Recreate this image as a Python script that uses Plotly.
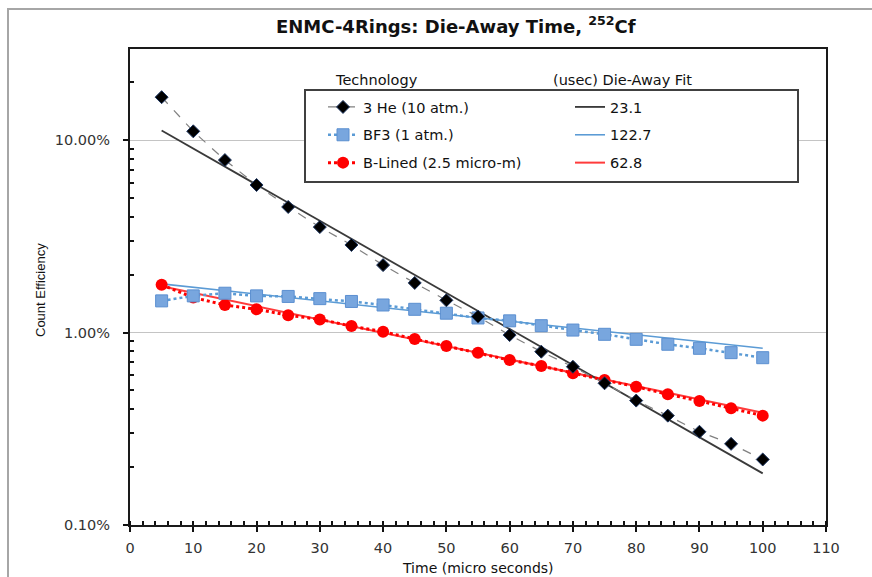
import plotly.graph_objects as go

# ---- data (fractions; axis shows percent) ----
time_us = [5, 10, 15, 20, 25, 30, 35, 40, 45, 50, 55, 60, 65, 70, 75, 80, 85, 90, 95, 100]
he3_eff = [0.167, 0.111, 0.0787, 0.0584, 0.0449, 0.0353, 0.0285, 0.0224, 0.0181, 0.0147,
           0.0121, 0.0097, 0.00795, 0.00664, 0.00545, 0.00443, 0.00370, 0.00305, 0.00264, 0.00219]
bf3_eff = [0.0146, 0.0155, 0.0160, 0.0155, 0.0154, 0.0150, 0.0145, 0.0139, 0.0132, 0.0126,
           0.0119, 0.0115, 0.01085, 0.0103, 0.00979, 0.00922, 0.00869, 0.00828, 0.00786, 0.00740]
blined_eff = [0.0177, 0.0152, 0.0139, 0.0132, 0.0123, 0.0117, 0.0108, 0.0101, 0.00925, 0.00851,
              0.00786, 0.00719, 0.00670, 0.00614, 0.00566, 0.00523, 0.00478, 0.00441, 0.00404, 0.00370]

fit_t = [5, 100]
he3_fit = [0.1120, 0.001855]
bf3_fit = [0.0179, 0.00828]
blined_fit = [0.0174, 0.00383]

series_names = ["3 He (10 atm.)", "BF3 (1 atm.)", "B-Lined (2.5 micro-m)"]
fit_names = ["23.1", "122.7", "62.8"]

# minor tick positions on the log axis (2..9 per decade)
y_minor = [m * d for d in (0.001, 0.01, 0.1) for m in range(2, 10) if m * d < 0.297]

# ---- geometry helpers (pixel -> paper) ----
W, H = 872, 577
L, R, T, B = 130, 46, 49, 52
PW, PH = W - L - R, H - T - B


def px(x):
    return (x - L) / PW


def py(y):
    return (H - B - y) / PH


fig = go.Figure()

# fit lines
fig.add_trace(go.Scatter(x=fit_t, y=blined_fit, mode="lines", name=fit_names[2],
                         line=dict(color="#ff3b3b", width=2), legend="legend2",
                         legendgroup="f3", legendrank=3))
fig.add_trace(go.Scatter(x=fit_t, y=bf3_fit, mode="lines", name=fit_names[1],
                         line=dict(color="#5b9bd5", width=1.6), legend="legend2",
                         legendgroup="f2", legendrank=2))
fig.add_trace(go.Scatter(x=fit_t, y=he3_fit, mode="lines", name=fit_names[0],
                         line=dict(color="#3a3a3a", width=1.8), legend="legend2",
                         legendgroup="f1", legendrank=1))

# data series
fig.add_trace(go.Scatter(x=time_us, y=blined_eff, mode="lines+markers", name=series_names[2],
                         line=dict(color="#ff0000", width=3, dash="dot"),
                         marker=dict(symbol="circle", size=12, color="#ff0000"),
                         legendgroup="d3", legendrank=3))
fig.add_trace(go.Scatter(x=time_us, y=bf3_eff, mode="lines+markers", name=series_names[1],
                         line=dict(color="#5b9bd5", width=2.5, dash="dot"),
                         marker=dict(symbol="square", size=12, color="#78a6de",
                                     line=dict(color="#5b8fd0", width=1)),
                         legendgroup="d2", legendrank=2))
fig.add_trace(go.Scatter(x=time_us, y=he3_eff, mode="lines+markers", name=series_names[0],
                         line=dict(color="#808080", width=1.2, dash="dash"),
                         marker=dict(symbol="diamond", size=10, color="#000000",
                                     line=dict(color="#1f3864", width=1)),
                         legendgroup="d1", legendrank=1))

font_main = "DejaVu Sans"
FS = 14.5

fig.update_layout(
    width=W, height=H,
    margin=dict(l=L, r=R, t=T, b=B),
    paper_bgcolor="white", plot_bgcolor="white",
    showlegend=True,
    legend=dict(x=px(323), y=py(91), xanchor="left", yanchor="top",
                bgcolor="rgba(0,0,0,0)", borderwidth=0, tracegroupgap=6,
                font=dict(family=font_main, size=FS, color="#111"),
                traceorder="grouped"),
    legend2=dict(x=px(570), y=py(91), xanchor="left", yanchor="top",
                 bgcolor="rgba(0,0,0,0)", borderwidth=0, tracegroupgap=6,
                 font=dict(family=font_main, size=FS, color="#111"),
                 traceorder="grouped"),
    xaxis=dict(range=[0, 110], tickmode="linear", tick0=0, dtick=10,
               ticks="outside", ticklen=5, tickwidth=1.5, tickcolor="#111",
               ticklabelstandoff=4,
               showgrid=False, zeroline=False,
               showline=True, linecolor="#1a1a1a", linewidth=2, mirror=True,
               minor=dict(dtick=2, ticks="inside", ticklen=4, tickcolor="#111", showgrid=False),
               tickfont=dict(family=font_main, size=FS, color="#333")),
    yaxis=dict(type="log", range=[-3, -0.527], tickmode="linear", tick0=0, dtick=1,
               tickformat=".2%",
               ticks="outside", ticklen=5, tickwidth=1.5, tickcolor="#111",
               ticklabelstandoff=10,
               showgrid=True, gridcolor="#c4c4c4", gridwidth=1, zeroline=False,
               showline=True, linecolor="#1a1a1a", linewidth=2, mirror=True,
               minor=dict(tickmode="array", tickvals=y_minor, ticks="inside", ticklen=4,
                          tickcolor="#111", showgrid=False),
               tickfont=dict(family=font_main, size=FS, color="#333")),
    shapes=[
        # outer chart border
        dict(type="rect", xref="paper", yref="paper",
             x0=px(8), y0=py(590), x1=px(885), y1=py(9),
             line=dict(color="#a6a6a6", width=2), fillcolor="rgba(0,0,0,0)", layer="below"),
        # legend box
        dict(type="rect", xref="paper", yref="paper",
             x0=px(305), y0=py(182), x1=px(798), y1=py(90),
             line=dict(color="#404040", width=2), fillcolor="white", layer="above"),
    ],
    annotations=[
        dict(text="<b>ENMC-4Rings: Die-Away Time, <sup>252</sup>Cf</b>", xref="paper", yref="paper",
             x=px(456), y=py(25), xanchor="center", yanchor="middle", showarrow=False,
             font=dict(family="DejaVu Sans", size=18, color="#111")),
        dict(text="Time (micro seconds)", xref="paper", yref="paper",
             x=px(478), y=py(568), xanchor="center", yanchor="middle", showarrow=False,
             font=dict(family=font_main, size=14, color="#111")),
        dict(text="Count Efficiency", xref="paper", yref="paper",
             x=px(40), y=py(290), xanchor="center", yanchor="middle", showarrow=False,
             textangle=-90, font=dict(family="Liberation Sans Narrow, Liberation Sans", size=13, color="#111")),
        dict(text="Technology", xref="paper", yref="paper",
             x=px(376), y=py(80), xanchor="center", yanchor="middle", showarrow=False,
             font=dict(family=font_main, size=FS, color="#111")),
        dict(text="(usec) Die-Away Fit", xref="paper", yref="paper",
             x=px(622), y=py(80), xanchor="center", yanchor="middle", showarrow=False,
             font=dict(family=font_main, size=FS, color="#111")),
    ],
)

fig.write_html("out.html")
